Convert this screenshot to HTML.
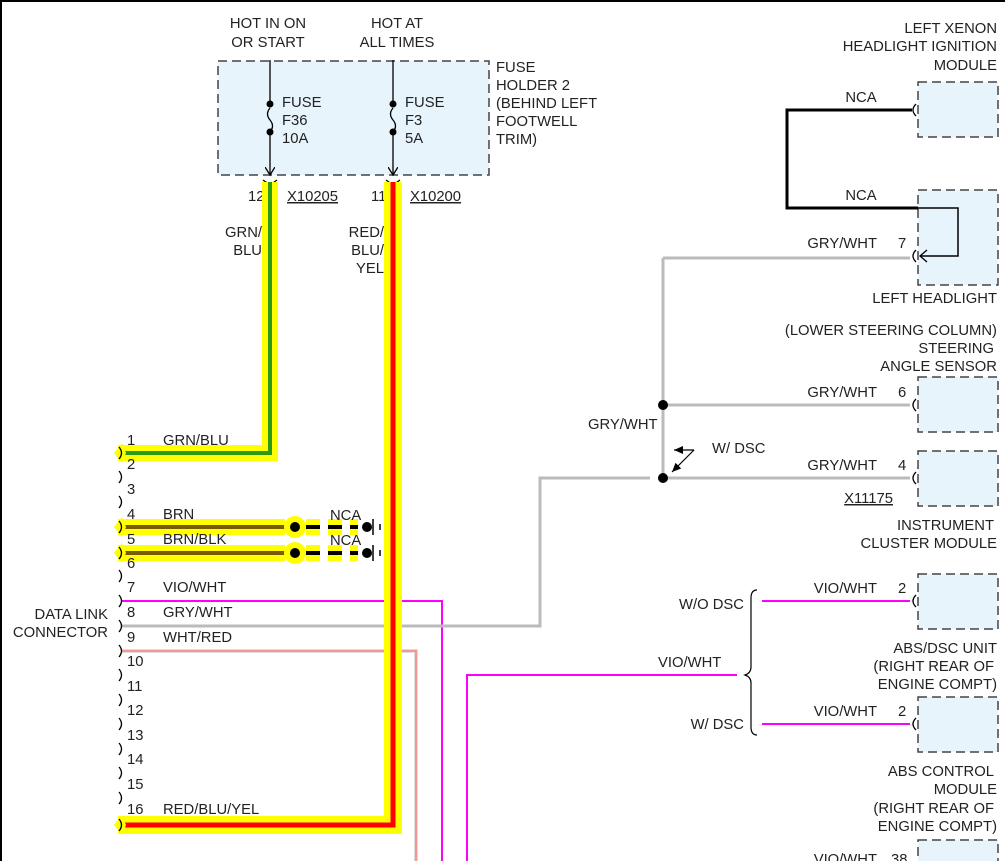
<!DOCTYPE html>
<html><head><meta charset="utf-8"><style>
html,body{margin:0;padding:0;background:#fff;}
svg{display:block;}
text{font-family:"Liberation Sans",Arial,sans-serif;font-size:14.8px;fill:#222;}
.r{text-anchor:end;}
.m{text-anchor:middle;}
.box{fill:#e8f4fc;stroke:#444;stroke-width:1.5;stroke-dasharray:9,5;}
</style></head><body>
<svg width="1005" height="861" viewBox="0 0 1005 861" xmlns="http://www.w3.org/2000/svg">
<defs>
<marker id="ah" markerWidth="10" markerHeight="10" refX="8" refY="5" orient="auto" markerUnits="userSpaceOnUse">
<path d="M0,0 L8,5 L0,10" fill="none" stroke="#000" stroke-width="1.3"/></marker>
<marker id="af" markerWidth="10" markerHeight="10" refX="9" refY="5" orient="auto" markerUnits="userSpaceOnUse">
<path d="M0,1 L9,5 L0,9 Z" fill="#000"/></marker>
</defs>
<rect x="0" y="0" width="1005" height="861" fill="#fff"/>
<line x1="1" y1="0" x2="1" y2="861" stroke="#000" stroke-width="2"/>
<line x1="0" y1="1" x2="1005" y2="1" stroke="#000" stroke-width="2"/>

<text x="268" y="28" class="m">HOT IN ON</text>
<text x="268" y="47" class="m">OR START</text>
<text x="397" y="28" class="m">HOT AT</text>
<text x="397" y="47" class="m">ALL TIMES</text>

<rect x="218" y="61" width="271" height="114" class="box"/>
<text x="496" y="72">FUSE</text>
<text x="496" y="90">HOLDER 2</text>
<text x="496" y="108">(BEHIND LEFT</text>
<text x="496" y="126">FOOTWELL</text>
<text x="496" y="144">TRIM)</text>
<g stroke="#000" stroke-width="1.3" fill="none">
<path d="M270,60 V103 M270,132 V175" marker-end="url(#ah)"/>
<path d="M270,108 q-5,6 0,12 q5,6 0,12"/>
<path d="M393,60 V103 M393,132 V175" marker-end="url(#ah)"/>
<path d="M393,108 q-5,6 0,12 q5,6 0,12"/>
<path d="M263,180 l7,5 l7,-5 M386,180 l7,5 l7,-5"/>
</g>
<circle cx="270" cy="104" r="3.5"/><circle cx="270" cy="132" r="3.5"/>
<circle cx="393" cy="104" r="3.5"/><circle cx="393" cy="132" r="3.5"/>
<text x="282" y="107">FUSE</text><text x="282" y="125">F36</text><text x="282" y="143">10A</text>
<text x="405" y="107">FUSE</text><text x="405" y="125">F3</text><text x="405" y="143">5A</text>
<text x="248" y="201">12</text><text x="287" y="201" text-decoration="underline">X10205</text>
<text x="371" y="201">11</text><text x="410" y="201" text-decoration="underline">X10200</text>

<polyline points="122,601 442,601 442,861" fill="none" stroke="#ff00ff" stroke-width="2"/>
<polyline points="122,651 416,651 416,861" fill="none" stroke="#ddd" stroke-width="4"/>
<polyline points="122,651 416,651 416,861" fill="none" stroke="#ff8080" stroke-width="1.5"/>
<polyline points="122,626 540,626 540,478 910,478" fill="none" stroke="#bbb" stroke-width="3"/>
<line x1="663" y1="258" x2="663" y2="478" stroke="#bbb" stroke-width="3"/>
<line x1="663" y1="258" x2="910" y2="258" stroke="#bbb" stroke-width="3"/>
<line x1="663" y1="405" x2="910" y2="405" stroke="#bbb" stroke-width="3"/>
<rect x="650" y="392" width="8" height="26" fill="#fff"/>
<rect x="650" y="466" width="8" height="24" fill="#fff"/>
<circle cx="663" cy="405" r="5"/><circle cx="663" cy="478" r="5"/>
<text x="588" y="429">GRY/WHT</text>
<line x1="694" y1="450" x2="674" y2="450" stroke="#000" stroke-width="1.2" marker-end="url(#af)"/>
<line x1="694" y1="450" x2="672" y2="472" stroke="#000" stroke-width="1.2" marker-end="url(#af)"/>
<text x="712" y="453">W/ DSC</text>

<polyline points="467,861 467,675 737,675" fill="none" stroke="#ff00ff" stroke-width="2"/>
<text x="658" y="667">VIO/WHT</text>
<path d="M757,590 q-6,0 -6,8 V667 q0,6 -6,8 q6,2 6,8 V727 q0,8 6,8" fill="none" stroke="#000" stroke-width="1.2"/>
<text x="744" y="609" class="r">W/O DSC</text>
<text x="744" y="729" class="r">W/ DSC</text>
<line x1="762" y1="601" x2="910" y2="601" stroke="#ff00ff" stroke-width="2"/>
<line x1="762" y1="724" x2="910" y2="724" stroke="#ff00ff" stroke-width="2"/>

<polyline points="118,453 270,453 270,182" fill="none" stroke="#ffff00" stroke-width="16"/>
<polyline points="118,453 270,453 270,182" fill="none" stroke="#2a9a10" stroke-width="4"/>
<polyline points="118,825 393,825 393,182" fill="none" stroke="#ffff00" stroke-width="18"/>
<polyline points="118,825 393,825 393,182" fill="none" stroke="#ff0000" stroke-width="5"/>
<g>
<line x1="118" y1="527" x2="285" y2="527" stroke="#ffff00" stroke-width="16"/>
<line x1="118" y1="527" x2="285" y2="527" stroke="#7a5a00" stroke-width="4"/>
<line x1="118" y1="553" x2="285" y2="553" stroke="#ffff00" stroke-width="16"/>
<line x1="118" y1="553" x2="285" y2="553" stroke="#7a5a00" stroke-width="4"/>
<circle cx="295" cy="527" r="11" fill="#ffff00"/><circle cx="295" cy="527" r="5"/>
<circle cx="295" cy="553" r="11" fill="#ffff00"/><circle cx="295" cy="553" r="5"/>
<line x1="306" y1="527" x2="358" y2="527" stroke="#ffff00" stroke-width="16" stroke-dasharray="14,8"/>
<line x1="306" y1="527" x2="358" y2="527" stroke="#000" stroke-width="4" stroke-dasharray="14,8"/>
<line x1="306" y1="553" x2="358" y2="553" stroke="#ffff00" stroke-width="16" stroke-dasharray="14,8"/>
<line x1="306" y1="553" x2="358" y2="553" stroke="#000" stroke-width="4" stroke-dasharray="14,8"/>
<circle cx="367" cy="527" r="5"/><line x1="373" y1="519" x2="373" y2="535" stroke="#000" stroke-width="1.5"/><line x1="380" y1="524" x2="380" y2="530" stroke="#000" stroke-width="1.5"/>
<circle cx="367" cy="553" r="5"/><line x1="373" y1="545" x2="373" y2="561" stroke="#000" stroke-width="1.5"/><line x1="380" y1="550" x2="380" y2="556" stroke="#000" stroke-width="1.5"/>
</g>
<text x="330" y="520">NCA</text><text x="330" y="545">NCA</text>
<g fill="#ffff00">
<path d="M114,453 l8,-10 l4,10 l-4,10 z"/>
<path d="M114,527 l8,-10 l4,10 l-4,10 z"/>
<path d="M114,553 l8,-10 l4,10 l-4,10 z"/>
<path d="M114,825 l8,-10 l4,10 l-4,10 z"/>
</g>
<g fill="none" stroke="#000" stroke-width="1.3">
<path d="M119,447 q5,6 0,12"/><path d="M119,471 q5,6 0,12"/><path d="M119,496 q5,6 0,12"/>
<path d="M119,521 q5,6 0,12"/><path d="M119,547 q5,6 0,12"/><path d="M119,570 q5,6 0,12"/>
<path d="M119,595 q5,6 0,12"/><path d="M119,620 q5,6 0,12"/><path d="M119,645 q5,6 0,12"/>
<path d="M119,669 q5,6 0,12"/><path d="M119,694 q5,6 0,12"/><path d="M119,718 q5,6 0,12"/>
<path d="M119,743 q5,6 0,12"/><path d="M119,767 q5,6 0,12"/><path d="M119,792 q5,6 0,12"/>
<path d="M119,819 q5,6 0,12"/>
</g>
<g style="font-size:14px">
<text x="127" y="445">1</text><text x="127" y="469">2</text><text x="127" y="494">3</text>
<text x="127" y="519">4</text><text x="127" y="544">5</text><text x="127" y="568">6</text>
<text x="127" y="592">7</text><text x="127" y="617">8</text><text x="127" y="642">9</text>
<text x="127" y="666">10</text><text x="127" y="691">11</text><text x="127" y="715">12</text>
<text x="127" y="740">13</text><text x="127" y="764">14</text><text x="127" y="789">15</text>
<text x="127" y="814">16</text>
</g>
<text x="163" y="445">GRN/BLU</text>
<text x="163" y="519">BRN</text>
<text x="163" y="544">BRN/BLK</text>
<text x="163" y="592">VIO/WHT</text>
<text x="163" y="617">GRY/WHT</text>
<text x="163" y="642">WHT/RED</text>
<text x="163" y="814">RED/BLU/YEL</text>
<text x="108" y="619" class="r">DATA LINK</text>
<text x="108" y="637" class="r">CONNECTOR</text>
<text x="262" y="237" class="r">GRN/</text><text x="262" y="255" class="r">BLU</text>
<text x="384" y="237" class="r">RED/</text><text x="384" y="255" class="r">BLU/</text><text x="384" y="273" class="r">YEL</text>

<text x="997" y="33" class="r">LEFT XENON</text>
<text x="997" y="51" class="r">HEADLIGHT IGNITION</text>
<text x="997" y="70" class="r">MODULE</text>
<rect x="918" y="82" width="80" height="55" class="box"/>
<rect x="918" y="190" width="80" height="95" class="box"/>
<polyline points="912,110 787,110 787,208 918,208" fill="none" stroke="#000" stroke-width="3"/>
<polyline points="918,208 958,208 958,256 920,256" fill="none" stroke="#000" stroke-width="1.5"/>
<path d="M927,250 l-7,6 l7,6" fill="none" stroke="#000" stroke-width="1.3"/>
<text x="861" y="102" class="m">NCA</text>
<text x="861" y="200" class="m">NCA</text>
<text x="877" y="248" class="r">GRY/WHT</text><text x="898" y="248">7</text>
<text x="997" y="303" class="r">LEFT HEADLIGHT</text>
<text x="997" y="335" class="r">(LOWER STEERING COLUMN)</text>
<text x="994" y="353" class="r">STEERING</text>
<text x="997" y="371" class="r">ANGLE SENSOR</text>
<rect x="918" y="377" width="80" height="55" class="box"/>
<text x="877" y="397" class="r">GRY/WHT</text><text x="898" y="397">6</text>
<rect x="918" y="451" width="80" height="55" class="box"/>
<text x="877" y="470" class="r">GRY/WHT</text><text x="898" y="470">4</text>
<text x="893" y="503" class="r" text-decoration="underline">X11175</text>
<text x="994" y="530" class="r">INSTRUMENT</text>
<text x="997" y="548" class="r">CLUSTER MODULE</text>
<rect x="918" y="574" width="80" height="55" class="box"/>
<text x="877" y="593" class="r">VIO/WHT</text><text x="898" y="593">2</text>
<text x="997" y="653" class="r">ABS/DSC UNIT</text>
<text x="994" y="671" class="r">(RIGHT REAR OF</text>
<text x="997" y="689" class="r">ENGINE COMPT)</text>
<rect x="918" y="697" width="80" height="55" class="box"/>
<text x="877" y="716" class="r">VIO/WHT</text><text x="898" y="716">2</text>
<text x="994" y="776" class="r">ABS CONTROL</text>
<text x="997" y="794" class="r">MODULE</text>
<text x="994" y="813" class="r">(RIGHT REAR OF</text>
<text x="997" y="831" class="r">ENGINE COMPT)</text>
<rect x="918" y="840" width="80" height="40" class="box"/>
<text x="877" y="864" class="r">VIO/WHT</text><text x="891" y="864">38</text>
<g fill="none" stroke="#000" stroke-width="1.3">
<path d="M916,104 q-6,6 0,12"/><path d="M916,250 q-6,6 0,12"/><path d="M916,399 q-6,6 0,12"/>
<path d="M916,472 q-6,6 0,12"/><path d="M916,595 q-6,6 0,12"/><path d="M916,718 q-6,6 0,12"/>
</g>
</svg>
</body></html>
